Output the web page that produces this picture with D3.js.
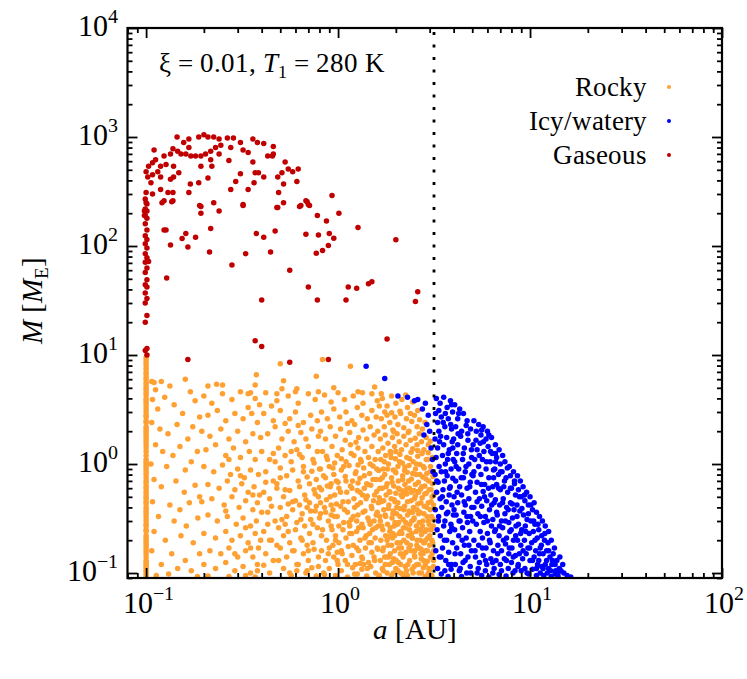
<!DOCTYPE html>
<html>
<head>
<meta charset="utf-8">
<script src="https://cdn.jsdelivr.net/npm/d3@7"></script>
<style>
@font-face { font-family: "PlotSerif"; font-style: normal; src: local("Liberation Serif"), local("LiberationSerif"), local("Liberation Serif Regular"), local("LiberationSerif-Regular"), local("DejaVu Serif"), local("DejaVuSerif"), local("Noto Serif"), local("NotoSerif-Regular"); }
@font-face { font-family: "PlotSerif"; font-style: italic; src: local("Liberation Serif Italic"), local("LiberationSerif-Italic"), local("DejaVu Serif Italic"), local("DejaVuSerif-Italic"), local("Noto Serif Italic"), local("NotoSerif-Italic"); }
body { margin: 0; background: #fff; }
svg text { font-family: "PlotSerif", "Liberation Serif", "Tinos", "Times New Roman", "DejaVu Serif", serif; fill: #000; }
</style>
</head>
<body>
<div id="chart"></div>
<script>
// axis ranges and ticks
var xDomain = [0.08, 100];
var yDomain = [0.09, 10000];
var xMajor = [0.1, 1, 10, 100];
var yMajor = [0.1, 1, 10, 100, 1000, 10000];
var snowLine = 3.16;

var legendNames = ["Rocky", "Icy/watery", "Gaseous"];
var colors = ["#ffa033", "#0000ff", "#c00000"];

// rocky planets [a (AU), M (M_E)] - the column at the inner edge first
var rockyEdgeM = [0.09,0.095,0.1,0.105,0.11,0.115,0.12,0.125,0.13,0.14,0.15,0.16,0.17,0.18,0.19,0.2,0.21,0.22,0.24,0.25,0.27,0.28,0.3,0.32,0.34,0.36,0.38,0.4,0.43,0.45,0.48,0.5,0.53,0.56,0.6,0.63,0.67,0.7,0.75,0.8,0.85,0.9,0.95,1,1.05,1.1,1.2,1.3,1.4,1.5,1.6,1.7,1.8,1.9,2,2.1,2.2,2.4,2.5,2.7,2.8,3,3.2,3.4,3.6,3.8,4,4.3,4.5,4.8,5,5.3,5.6,6,6.3,6.7,7,7.5,8,8.5,9,9.5];
var rocky = [
[0.107,5.7],[0.12,5.7],[0.133,5.2],[0.21,5.2],[0.233,5.4],[0.25,5.3],[0.37,5.3],[0.375,6.6],[0.5,8.3],[0.52,5.8],[0.51,4.9],[0.6,4.6],[0.61,4.9],[0.79,4.6],[0.77,6.4],[0.83,9.1],[0.95,5.0],[1.16,7.9],[1.27,4.6],[1.34,4.5],[1.68,4.4],[0.34,4.4],[0.35,4.5],[0.48,4.4],[0.112,4.8],[1.55,5.1],[2.25,4.3],
[0.11,5.6],[0.16,6],[0.17,4.6],[0.108,3.9],[0.115,3.2],[0.125,4.1],[0.14,3.5],[0.155,2.9],[0.18,3.8],[0.19,2.7],[0.107,2.4],[0.118,2.1],[0.13,1.9],[0.145,2.3],[0.165,1.7],[0.175,2.2],[0.112,1.5],[0.122,1.3],[0.138,1.2],[0.15,1.45],[0.185,1.3],[0.106,1.0],[0.128,0.95],[0.16,0.88],[0.172,1.05],[0.11,0.72],[0.12,0.62],[0.143,0.7],[0.158,0.55],[0.18,0.64],[0.19,0.5],[0.108,0.45],[0.133,0.42],[0.15,0.38],[0.168,0.44],[0.116,0.33],[0.14,0.3],[0.162,0.27],[0.186,0.32],[0.11,0.24],[0.126,0.2],[0.152,0.22],[0.176,0.19],[0.107,0.16],[0.136,0.15],[0.16,0.13],[0.19,0.15],[0.12,0.12],[0.146,0.11],[0.172,0.105],[0.113,0.095],[0.185,0.093],[0.131,0.098],
[0.2,4.2],[0.22,3.6],[0.25,4.4],[0.28,3.9],[0.31,4.6],[0.34,3.3],[0.37,4.0],[0.39,3.5],[0.21,2.8],[0.235,3.1],[0.26,2.5],[0.29,2.9],[0.32,2.6],[0.355,2.9],[0.38,2.4],[0.195,2.0],[0.215,1.8],[0.245,2.1],[0.27,1.7],[0.3,2.0],[0.33,1.6],[0.36,1.9],[0.395,1.75],[0.205,1.35],[0.23,1.5],[0.26,1.2],[0.285,1.4],[0.31,1.15],[0.345,1.3],[0.37,1.1],[0.2,0.95],[0.225,0.85],[0.25,0.98],[0.275,0.8],[0.3,0.9],[0.325,0.75],[0.35,0.88],[0.385,0.8],[0.21,0.65],[0.24,0.6],[0.265,0.7],[0.29,0.58],[0.315,0.66],[0.34,0.55],[0.365,0.62],[0.39,0.52],[0.195,0.45],[0.22,0.48],[0.255,0.42],[0.28,0.5],[0.305,0.4],[0.33,0.46],[0.36,0.38],[0.38,0.44],[0.21,0.34],[0.235,0.3],[0.265,0.33],[0.295,0.28],[0.32,0.32],[0.35,0.27],[0.375,0.3],[0.2,0.23],[0.23,0.21],[0.26,0.24],[0.28,0.2],[0.31,0.22],[0.34,0.19],[0.37,0.23],[0.395,0.2],[0.215,0.16],[0.245,0.15],[0.27,0.17],[0.3,0.14],[0.33,0.16],[0.36,0.14],[0.385,0.17],[0.2,0.12],[0.23,0.11],[0.26,0.125],[0.29,0.105],[0.32,0.115],[0.35,0.1],[0.38,0.12],[0.21,0.094],[0.27,0.093],[0.33,0.095],[0.37,0.092],
[0.42,4.5],[0.48,3.8],[0.55,4.2],[0.62,3.6],[0.7,4.4],[0.76,3.9],[0.45,3.4],[0.41,2.9],[0.46,2.5],[0.5,3.1],[0.56,2.6],[0.6,3.0],[0.66,2.4],[0.72,2.8],[0.78,2.5],[0.53,2.35],[0.43,1.9],[0.47,2.2],[0.51,1.7],[0.55,2.0],[0.59,1.6],[0.64,1.95],[0.68,1.7],[0.73,2.1],[0.79,1.8],[0.62,2.25],[0.4,1.3],[0.44,1.1],[0.49,1.4],[0.53,1.2],[0.57,1.05],[0.61,1.35],[0.65,1.15],[0.7,1.45],[0.74,1.1],[0.78,1.3],[0.46,1.25],[0.42,0.85],[0.46,0.7],[0.5,0.92],[0.54,0.78],[0.58,0.88],[0.62,0.7],[0.66,0.95],[0.69,0.76],[0.73,0.86],[0.77,0.72],[0.8,0.9],[0.48,0.66],[0.41,0.55],[0.44,0.48],[0.48,0.6],[0.52,0.5],[0.56,0.57],[0.6,0.46],[0.63,0.62],[0.67,0.52],[0.71,0.44],[0.75,0.58],[0.79,0.5],[0.55,0.43],[0.43,0.36],[0.47,0.3],[0.5,0.4],[0.54,0.33],[0.58,0.38],[0.61,0.29],[0.65,0.35],[0.69,0.4],[0.72,0.31],[0.76,0.37],[0.8,0.32],[0.45,0.41],[0.63,0.42],[0.41,0.24],[0.45,0.2],[0.49,0.26],[0.52,0.22],[0.56,0.19],[0.6,0.25],[0.64,0.21],[0.67,0.27],[0.71,0.23],[0.74,0.19],[0.78,0.26],[0.53,0.28],[0.69,0.18],[0.42,0.15],[0.46,0.13],[0.5,0.17],[0.54,0.14],[0.58,0.16],[0.62,0.12],[0.66,0.15],[0.7,0.13],[0.75,0.165],[0.79,0.14],[0.48,0.18],[0.44,0.1],[0.52,0.11],[0.57,0.095],[0.61,0.105],[0.68,0.1],[0.73,0.112],[0.77,0.094],[0.41,0.118],
[0.85,4.3],[0.92,3.7],[1.0,4.5],[1.08,3.9],[1.2,4.2],[1.35,3.6],[1.5,4.4],[1.6,3.8],[0.82,3.0],[0.88,2.6],[0.95,3.2],[1.02,2.7],[1.1,3.0],[1.18,2.5],[1.26,3.3],[1.33,2.8],[1.42,2.6],[1.5,3.1],[1.58,2.7],[1.64,3.4],[0.81,2.0],[0.86,1.7],[0.91,2.2],[0.97,1.8],[1.03,2.1],[1.09,1.65],[1.15,1.95],[1.22,2.3],[1.28,1.75],[1.35,2.05],[1.41,1.7],[1.47,2.2],[1.54,1.85],[1.61,2.0],[1.12,2.35],[0.83,1.3],[0.88,1.1],[0.93,1.45],[0.99,1.2],[1.05,1.35],[1.1,1.05],[1.16,1.5],[1.21,1.2],[1.27,1.4],[1.32,1.05],[1.38,1.3],[1.44,1.15],[1.5,1.45],[1.56,1.1],[1.62,1.3],[0.96,1.02],[1.24,1.58],[0.81,0.9],[0.86,0.75],[0.9,0.95],[0.95,0.8],[1.0,0.68],[1.04,0.88],[1.09,0.77],[1.14,0.97],[1.19,0.7],[1.24,0.85],[1.3,0.74],[1.36,0.92],[1.41,0.66],[1.46,0.82],[1.52,0.96],[1.58,0.72],[1.63,0.87],[0.92,0.66],[1.27,0.98],[0.82,0.58],[0.87,0.47],[0.91,0.62],[0.96,0.52],[1.01,0.6],[1.06,0.45],[1.11,0.55],[1.16,0.63],[1.21,0.48],[1.26,0.57],[1.31,0.44],[1.37,0.6],[1.42,0.51],[1.48,0.64],[1.53,0.46],[1.59,0.56],[1.64,0.49],[0.98,0.43],[1.34,0.52],[0.81,0.35],[0.85,0.4],[0.89,0.3],[0.94,0.38],[0.99,0.33],[1.03,0.41],[1.07,0.29],[1.12,0.36],[1.17,0.31],[1.22,0.4],[1.27,0.34],[1.33,0.28],[1.38,0.37],[1.43,0.32],[1.49,0.41],[1.54,0.3],[1.6,0.36],[1.65,0.33],[0.92,0.34],[1.25,0.3],[0.83,0.25],[0.87,0.2],[0.92,0.27],[0.97,0.22],[1.01,0.19],[1.06,0.25],[1.1,0.21],[1.15,0.27],[1.2,0.18],[1.25,0.24],[1.3,0.2],[1.35,0.26],[1.4,0.22],[1.45,0.19],[1.51,0.25],[1.56,0.21],[1.62,0.27],[0.94,0.18],[1.18,0.23],[1.47,0.28],[0.82,0.16],[0.86,0.13],[0.9,0.17],[0.95,0.14],[1.0,0.12],[1.04,0.16],[1.09,0.13],[1.13,0.175],[1.18,0.145],[1.23,0.12],[1.28,0.16],[1.34,0.135],[1.39,0.17],[1.44,0.125],[1.5,0.155],[1.55,0.13],[1.61,0.165],[0.99,0.155],[1.3,0.122],[0.84,0.1],[0.9,0.11],[0.97,0.095],[1.04,0.105],[1.12,0.092],[1.19,0.112],[1.26,0.098],[1.33,0.108],[1.41,0.094],[1.48,0.115],[1.57,0.1],[1.63,0.091],
[1.7,4.0],[1.8,3.4],[1.9,4.2],[2.0,3.6],[2.15,3.9],[2.3,3.3],[2.45,3.7],[2.6,3.1],[1.75,3.0],[2.1,3.05],[1.68,2.6],[1.74,2.2],[1.8,2.8],[1.86,2.4],[1.93,2.05],[1.98,2.7],[2.05,2.3],[2.12,2.9],[2.2,2.15],[2.27,2.6],[2.34,2.0],[2.42,2.45],[2.5,2.8],[2.58,2.2],[2.66,2.55],[2.75,2.1],[2.84,2.4],[1.9,2.95],[2.38,2.9],[1.66,1.7],[1.71,1.4],[1.76,1.85],[1.82,1.55],[1.87,1.3],[1.92,1.75],[1.97,1.45],[2.03,1.9],[2.08,1.6],[2.14,1.35],[2.2,1.8],[2.26,1.5],[2.32,1.95],[2.38,1.65],[2.45,1.38],[2.52,1.72],[2.58,1.5],[2.65,1.9],[2.72,1.6],[2.8,1.35],[2.88,1.75],[2.95,1.5],[3.02,1.62],[1.95,1.98],[2.6,1.33],[1.67,1.1],[1.72,0.9],[1.77,1.2],[1.83,1.0],[1.88,1.25],[1.94,0.88],[1.99,1.12],[2.05,0.95],[2.1,1.22],[2.16,1.02],[2.22,0.87],[2.28,1.15],[2.34,0.97],[2.4,1.28],[2.46,1.05],[2.53,0.9],[2.6,1.18],[2.67,0.99],[2.74,1.25],[2.81,0.92],[2.88,1.1],[2.95,1.27],[3.03,0.95],[3.1,1.15],[2.0,1.3],[1.66,0.72],[1.7,0.6],[1.75,0.8],[1.8,0.66],[1.85,0.56],[1.9,0.75],[1.95,0.63],[2.0,0.83],[2.06,0.7],[2.11,0.58],[2.17,0.78],[2.23,0.65],[2.29,0.84],[2.35,0.6],[2.41,0.73],[2.48,0.57],[2.55,0.8],[2.62,0.68],[2.69,0.59],[2.76,0.76],[2.83,0.63],[2.9,0.82],[2.97,0.7],[3.05,0.58],[3.12,0.77],[2.2,0.56],[1.68,0.45],[1.73,0.38],[1.78,0.52],[1.84,0.42],[1.89,0.48],[1.94,0.37],[2.0,0.54],[2.05,0.44],[2.1,0.39],[2.16,0.5],[2.22,0.41],[2.28,0.53],[2.34,0.37],[2.4,0.46],[2.47,0.4],[2.53,0.51],[2.6,0.43],[2.67,0.36],[2.74,0.49],[2.81,0.41],[2.88,0.54],[2.95,0.44],[3.02,0.38],[3.09,0.5],[3.14,0.42],[1.98,0.45],[2.63,0.55],[1.66,0.3],[1.71,0.25],[1.76,0.34],[1.81,0.28],[1.86,0.24],[1.91,0.32],[1.96,0.27],[2.02,0.35],[2.07,0.29],[2.12,0.24],[2.18,0.31],[2.24,0.26],[2.3,0.34],[2.36,0.28],[2.42,0.23],[2.49,0.32],[2.56,0.27],[2.63,0.35],[2.7,0.25],[2.77,0.3],[2.84,0.24],[2.91,0.33],[2.98,0.28],[3.06,0.25],[3.13,0.31],[1.93,0.23],[2.45,0.36],[1.67,0.2],[1.72,0.17],[1.77,0.22],[1.82,0.18],[1.87,0.15],[1.92,0.21],[1.97,0.16],[2.03,0.19],[2.08,0.23],[2.14,0.17],[2.2,0.2],[2.26,0.155],[2.32,0.22],[2.38,0.18],[2.44,0.21],[2.51,0.16],[2.58,0.2],[2.65,0.17],[2.72,0.225],[2.79,0.19],[2.86,0.16],[2.93,0.21],[3.0,0.18],[3.08,0.2],[3.15,0.16],[2.11,0.15],[2.7,0.15],[1.66,0.13],[1.7,0.11],[1.75,0.14],[1.8,0.1],[1.85,0.12],[1.9,0.095],[1.95,0.135],[2.0,0.11],[2.06,0.125],[2.12,0.1],[2.18,0.14],[2.24,0.115],[2.3,0.095],[2.36,0.13],[2.43,0.108],[2.5,0.145],[2.57,0.12],[2.64,0.1],[2.71,0.135],[2.78,0.112],[2.85,0.093],[2.92,0.128],[2.99,0.105],[3.07,0.14],[3.14,0.115],[2.2,0.092]
];
// further rocky planets filling the dense zone at 0.3 - 3 AU
var rockyDense = [
[0.26,0.37],[0.29,0.15],[0.31,0.78],[0.33,0.26],[0.36,0.52],[0.38,0.105],[0.4,0.36],[0.42,0.68],[0.44,0.2],[0.47,1.05],[0.49,0.13],[0.51,0.31],[0.53,0.58],[0.55,0.24],[0.57,1.3],[0.59,0.16],[0.27,1.1],[0.35,0.17],[0.43,0.28],[0.5,0.75],[0.56,0.1],[0.58,0.45],
[0.61,0.12],[0.64,0.31],[0.66,0.85],[0.63,1.22],[0.68,0.47],[0.7,0.16],[0.71,0.66],[0.74,0.28],[0.75,1.02],[0.77,0.41],[0.79,0.115],[0.8,0.61],[0.82,0.22],[0.84,0.78],[0.86,0.36],[0.87,1.18],[0.89,0.15],[0.91,0.5],[0.93,0.25],[0.94,0.92],[0.96,0.33],[0.98,0.7],[0.99,0.13],[0.65,0.2],[0.69,0.105],[0.72,0.37],[0.76,0.53],[0.81,0.44],[0.85,0.097],[0.88,0.63],[0.92,0.42],[0.97,0.2],
[1.01,0.27],[1.03,0.55],[1.05,0.15],[1.07,0.95],[1.08,0.38],[1.1,0.7],[1.12,0.12],[1.13,0.45],[1.15,0.23],[1.17,1.25],[1.18,0.6],[1.2,0.33],[1.22,0.098],[1.23,0.82],[1.25,0.17],[1.26,0.42],[1.28,0.26],[1.3,0.55],[1.31,1.1],[1.33,0.14],[1.35,0.36],[1.37,0.78],[1.38,0.21],[1.4,0.48],[1.42,0.11],[1.43,0.65],[1.45,0.3],[1.47,1.0],[1.49,0.19],[1.5,0.39],[1.52,0.72],[1.54,0.14],[1.55,0.52],[1.57,0.26],[1.59,0.9],[1.6,0.17],[1.62,0.44],[1.64,0.095],[1.65,0.6],[1.04,1.12],[1.14,0.29],[1.27,0.67],[1.36,0.12],[1.46,0.23],[1.58,0.34],
[1.69,0.27],[1.7,0.75],[1.71,0.16],[1.73,0.46],[1.74,1.05],[1.76,0.12],[1.77,0.33],[1.78,0.62],[1.8,0.2],[1.81,0.9],[1.83,0.39],[1.84,0.14],[1.86,0.55],[1.87,0.26],[1.89,1.15],[1.9,0.18],[1.91,0.68],[1.93,0.35],[1.94,0.1],[1.96,0.47],[1.97,0.22],[1.99,0.85],[2.01,0.13],[2.02,0.4],[2.04,0.28],[2.06,0.6],[2.07,0.17],[2.09,1.05],[2.1,0.33],[2.12,0.12],[2.13,0.52],[2.15,0.23],[2.17,0.72],[2.18,0.097],[2.2,0.38],[2.21,0.15],[2.23,0.94],[2.25,0.29],[2.26,0.58],[2.28,0.19],[2.3,0.45],[2.31,0.12],[2.33,0.7],[2.35,0.25],[2.36,1.12],[2.38,0.36],[2.4,0.16],[2.41,0.55],[2.43,0.21],[2.45,0.82],[2.46,0.1],[2.48,0.31],[2.5,0.48],[2.51,0.14],[2.53,0.65],[2.55,0.24],[2.56,1.0],[2.58,0.38],[2.6,0.17],[2.61,0.56],[2.63,0.12],[2.65,0.29],[2.67,0.8],[2.68,0.2],[2.7,0.44],[2.72,0.1],[2.73,0.62],[2.75,0.27],[2.77,0.15],[2.78,0.95],[2.8,0.35],[2.82,0.19],[2.83,0.53],[2.85,0.12],[2.87,0.73],[2.88,0.25],[2.9,0.4],[2.92,0.16],[2.93,1.1],[2.95,0.3],[2.97,0.11],[2.98,0.58],[3.0,0.22],[3.02,0.85],[3.03,0.14],[3.05,0.45],[3.07,0.33],[3.08,0.095],[3.1,0.66],[3.11,0.19],[3.13,0.27],[3.15,0.52],[3.14,0.13],
[1.72,0.105],[1.79,0.14],[1.85,0.215],[1.92,0.125],[1.98,0.29],[2.05,0.105],[2.11,0.19],[2.19,0.26],[2.27,0.105],[2.34,0.17],[2.42,0.3],[2.49,0.115],[2.57,0.18],[2.64,0.25],[2.71,0.165],[2.79,0.13],[2.86,0.2],[2.94,0.098],[3.01,0.25],[3.09,0.15]
];

// icy / watery planets [a, M]
var icy = [
[1.4,7.9],[1.75,6.1],[2.05,4.2],[2.3,4.1],[2.6,3.9],[2.85,3.6],[2.75,3.2],[2.95,2.8],[2.9,2.3],[3.0,2.0],[2.8,1.85],[3.05,1.4],[3.1,1.1],[3.12,0.85],[2.5,3.8],
[3.25,4.0],[3.4,3.6],[3.55,4.1],[3.7,3.3],[3.85,3.8],[3.95,3.0],[3.22,2.9],[3.3,2.4],[3.45,2.7],[3.6,2.2],[3.75,2.6],[3.9,2.1],[3.35,2.0],[3.2,1.7],[3.3,1.4],[3.42,1.8],[3.55,1.5],[3.68,1.75],[3.8,1.35],[3.93,1.6],[3.24,1.15],[3.36,0.95],[3.5,1.2],[3.62,1.0],[3.75,1.25],[3.88,0.9],[3.98,1.1],[3.2,0.8],[3.32,0.68],[3.45,0.85],[3.58,0.7],[3.7,0.78],[3.84,0.62],[3.96,0.74],[3.26,0.55],[3.4,0.48],[3.52,0.58],[3.66,0.45],[3.79,0.52],[3.92,0.42],[3.21,0.38],[3.34,0.33],[3.47,0.4],[3.6,0.3],[3.73,0.36],[3.87,0.28],[3.99,0.34],[3.28,0.25],[3.41,0.22],[3.55,0.27],[3.68,0.2],[3.82,0.24],[3.95,0.19],[3.23,0.16],[3.37,0.14],[3.5,0.17],[3.64,0.13],[3.77,0.155],[3.9,0.12],[3.3,0.11],[3.45,0.098],[3.6,0.105],[3.74,0.093],[3.88,0.108],
[4.05,3.5],[4.3,3.2],[4.5,2.9],[4.2,2.6],[4.7,2.5],[4.1,2.2],[4.4,2.0],[4.65,2.25],[4.9,2.1],[4.0,1.7],[4.2,1.5],[4.35,1.8],[4.55,1.4],[4.75,1.65],[4.95,1.35],[4.15,1.25],[4.05,1.05],[4.25,0.9],[4.45,1.1],[4.6,0.85],[4.8,1.0],[4.98,0.8],[4.1,0.7],[4.3,0.62],[4.5,0.75],[4.7,0.6],[4.88,0.68],[4.02,0.5],[4.2,0.44],[4.4,0.52],[4.6,0.42],[4.8,0.48],[4.97,0.4],[4.12,0.34],[4.32,0.3],[4.52,0.36],[4.72,0.29],[4.9,0.33],[4.05,0.25],[4.25,0.22],[4.45,0.26],[4.65,0.21],[4.85,0.24],[4.15,0.17],[4.35,0.15],[4.55,0.18],[4.75,0.14],[4.95,0.16],[4.08,0.12],[4.28,0.105],[4.48,0.125],[4.68,0.1],[4.88,0.115],[4.4,0.093],
[5.1,2.5],[5.4,2.3],[5.7,2.2],[6.0,2.0],[5.25,2.0],[5.55,1.85],[5.9,1.7],[6.3,1.75],[5.05,1.5],[5.3,1.35],[5.5,1.55],[5.75,1.3],[6.05,1.45],[6.35,1.25],[5.15,1.1],[5.4,0.95],[5.65,1.1],[5.9,0.9],[6.2,1.05],[6.45,0.88],[5.05,0.78],[5.3,0.68],[5.55,0.8],[5.8,0.65],[6.1,0.75],[6.4,0.62],[5.2,0.55],[5.45,0.48],[5.7,0.56],[5.95,0.46],[6.25,0.52],[6.5,0.44],[5.1,0.4],[5.35,0.35],[5.6,0.41],[5.85,0.33],[6.15,0.38],[6.4,0.31],[5.25,0.28],[5.5,0.24],[5.75,0.29],[6.0,0.23],[6.3,0.27],[5.1,0.2],[5.4,0.18],[5.65,0.21],[5.9,0.17],[6.2,0.19],[6.45,0.16],[5.2,0.14],[5.45,0.125],[5.7,0.145],[5.95,0.12],[6.25,0.135],[6.5,0.11],[5.3,0.1],[5.6,0.095],[5.85,0.105],[6.1,0.092],[6.4,0.1],
[6.6,1.5],[6.9,1.35],[7.2,1.2],[6.7,1.15],[7.0,1.0],[7.4,1.05],[7.8,0.95],[8.2,0.85],[6.55,0.9],[6.85,0.8],[7.15,0.85],[7.5,0.75],[7.9,0.78],[8.3,0.7],[6.7,0.65],[7.0,0.58],[7.3,0.62],[7.65,0.55],[8.0,0.6],[8.4,0.52],[6.6,0.47],[6.95,0.42],[7.25,0.48],[7.55,0.4],[7.9,0.44],[8.25,0.38],[6.75,0.34],[7.1,0.3],[7.4,0.35],[7.75,0.29],[8.1,0.32],[8.45,0.27],[6.6,0.25],[6.9,0.22],[7.2,0.26],[7.55,0.21],[7.85,0.24],[8.2,0.2],[6.8,0.18],[7.1,0.16],[7.45,0.185],[7.75,0.15],[8.05,0.17],[8.4,0.145],[6.65,0.13],[7.0,0.12],[7.35,0.135],[7.7,0.11],[8.0,0.125],[8.35,0.105],[6.9,0.097],[7.5,0.094],[8.15,0.1],
[8.6,0.78],[8.9,0.7],[9.2,0.62],[9.6,0.55],[10.0,0.5],[10.5,0.44],[8.7,0.58],[9.0,0.5],[9.4,0.46],[9.8,0.42],[10.3,0.38],[10.8,0.36],[8.55,0.42],[8.85,0.37],[9.25,0.34],[9.65,0.31],[10.1,0.3],[10.6,0.28],[8.7,0.28],[9.05,0.25],[9.45,0.27],[9.9,0.23],[10.4,0.24],[10.9,0.21],[8.6,0.2],[8.95,0.18],[9.35,0.2],[9.75,0.17],[10.2,0.19],[10.7,0.16],[8.8,0.15],[9.15,0.135],[9.55,0.15],[10.0,0.13],[10.5,0.14],[10.95,0.12],[8.65,0.115],[9.0,0.105],[9.4,0.11],[9.85,0.098],[10.3,0.108],[10.8,0.095],
[11.2,0.33],[11.6,0.3],[12.0,0.27],[12.5,0.24],[11.1,0.25],[11.5,0.22],[11.9,0.2],[12.4,0.19],[12.9,0.2],[13.4,0.17],[11.3,0.17],[11.7,0.15],[12.2,0.16],[12.7,0.14],[13.2,0.15],[13.8,0.13],[14.3,0.14],[11.1,0.13],[11.5,0.115],[12.0,0.12],[12.5,0.11],[13.0,0.12],[13.6,0.105],[14.2,0.11],[14.8,0.12],[11.3,0.1],[11.8,0.095],[12.3,0.1],[12.9,0.093],[13.5,0.098],[14.0,0.093],[15.0,0.1],[15.6,0.095],[16.3,0.092]
];
var icyDense = [
[3.27,0.7],[3.33,0.3],[3.38,1.6],[3.44,0.14],[3.49,0.5],[3.53,2.4],[3.58,0.2],[3.63,0.85],[3.67,0.35],[3.72,1.1],[3.77,0.12],[3.81,0.6],[3.86,2.3],[3.91,0.26],[3.96,1.4],[4.02,0.38],[4.07,0.15],[4.12,0.95],[4.17,0.55],[4.22,1.9],[4.27,0.3],[4.33,0.11],[4.38,0.75],[4.43,0.2],[4.49,1.25],[4.54,0.45],[4.59,0.13],[4.64,0.95],[4.69,0.33],[4.74,1.9],[4.8,0.18],[4.85,0.62],[4.91,0.1],[4.96,1.15],[3.35,3.1],[3.62,2.9],[3.9,3.5],[4.25,2.9],
[5.03,0.3],[5.1,0.85],[5.17,0.16],[5.23,1.65],[5.3,0.45],[5.37,0.11],[5.44,1.2],[5.51,0.33],[5.58,0.65],[5.65,0.17],[5.72,1.6],[5.79,0.5],[5.86,0.13],[5.93,1.05],[6.0,0.3],[6.08,0.6],[6.15,0.2],[6.23,1.3],[6.31,0.42],[6.38,0.125],[6.46,0.75],[6.54,0.24],[6.62,1.05],[6.7,0.36],[6.78,0.15],[6.86,0.6],[6.94,0.27],[7.02,0.85],[7.1,0.105],[7.19,0.44],[7.27,0.2],[7.36,0.7],[7.44,0.3],[7.53,0.13],[7.62,0.92],[7.7,0.38],[7.8,0.17],[7.9,0.6],[7.98,0.25],[5.6,2.05],[6.1,1.85],[6.6,1.25],
[8.08,0.43],[8.18,0.14],[8.3,0.66],[8.42,0.22],[8.55,0.33],[8.68,0.12],[8.8,0.5],[8.93,0.23],[9.07,0.39],[9.2,0.16],[9.35,0.52],[9.5,0.24],[9.65,0.1],[9.8,0.35],[9.95,0.17],[10.1,0.42],[10.3,0.13],[10.45,0.3],[10.6,0.2],[10.8,0.11],[11.0,0.28],[11.2,0.15],[11.45,0.18],[11.7,0.11],[11.95,0.23],[12.2,0.13],[12.5,0.16],[12.8,0.105],[13.1,0.13],[13.5,0.12],[14.0,0.1],[14.5,0.105]
];

// gaseous planets [a, M]
var gasEdgeM = [270,243,219,209,190,180,160,140,124,115,105,96,85,78,71,63,57,49,44,42,37,33,30,23,20,11.5,11,10];
var gaseous = [
[0.145,1000],[0.167,960],[0.188,1000],[0.2,1050],[0.21,1000],[0.225,1000],[0.24,960],[0.265,980],[0.285,980],[0.31,890],[0.36,960],[0.38,890],[0.41,870],[0.46,820],[0.157,890],[0.167,800],[0.138,780],[0.146,740],[0.152,700],[0.161,700],[0.171,670],[0.181,670],[0.193,670],[0.204,700],[0.217,740],[0.23,800],[0.245,840],[0.276,800],[0.32,760],[0.34,720],[0.124,670],[0.134,700],[0.11,760],[0.112,620],[0.108,580],[0.103,540],[0.1,480],[0.102,430],[0.108,450],[0.115,480],[0.119,540],[0.127,560],[0.139,540],[0.148,470],[0.139,430],[0.134,410],[0.119,430],[0.106,380],[0.1,310],[0.108,300],[0.119,330],[0.13,310],[0.138,310],[0.124,260],[0.138,260],[0.1,250],[0.098,210],[0.098,190],[0.17,370],[0.167,310],[0.188,380],[0.193,540],[0.21,420],[0.217,620],[0.22,540],[0.24,700],[0.27,610],[0.293,390],[0.276,330],[0.31,460],[0.32,240],[0.34,330],[0.36,590],[0.37,470],[0.385,470],[0.365,380],[0.41,430],[0.43,670],[0.455,670],[0.46,700],[0.485,430],[0.49,310],[0.51,470],[0.53,590],[0.52,370],[0.55,510],[0.58,480],[0.61,390],[0.62,510],[0.52,250],[0.485,225],[0.63,230],[0.68,260],[0.7,240],[0.78,190],[0.93,290],[1.01,200],[0.193,230],[0.193,200],[0.225,250],[0.24,210],
[0.121,250],[0.136,255],[0.19,235],[0.32,235],[0.48,225],[0.64,235],[0.69,255],[0.71,235],[0.87,170],[0.124,140],[0.127,140],[0.154,117],[0.161,130],[0.165,98],[0.181,120],[0.217,145],[0.214,88],[0.134,102],[0.128,51],[0.28,67],[0.33,85],[0.375,130],[0.41,120],[0.445,88],[0.47,137],[0.56,60],[0.68,128],[0.77,86],[0.79,126],[0.83,91],[0.89,101],[0.9,130],[0.95,118],[1.27,148],[2.0,114],[0.7,42],[0.4,32],[0.78,32],[1.1,32],[1.13,42],[1.25,41],[1.44,45],[1.5,47],[2.53,31],[2.6,38],[0.37,13.5],[0.4,12],[1.8,14],[0.165,9.1],[0.56,8.6],[0.89,9.1],[0.103,72]
];

var W = 747, H = 679;
var L = 127.5, R = 722, T = 28, B = 578;

var svg = d3.select("#chart").append("svg")
        .attr("width", W)
        .attr("height", H);

var x = d3.scaleLog().domain(xDomain).range([L, R]);
var y = d3.scaleLog().domain(yDomain).range([B, T]);

svg.append("clipPath").attr("id", "clip")
        .append("rect")
        .attr("x", L).attr("y", T)
        .attr("width", R - L).attr("height", B - T);

// merge the inner-edge columns into the point lists
var rockyAll = rockyEdgeM.map(function(m) { return [0.1, m]; }).concat(rocky, rockyDense);
var icyAll = icy.concat(icyDense);
var gasAll = gasEdgeM.map(function(m, i) { return [i % 2 ? 0.101 : 0.099, m]; }).concat(gaseous);
var groups = [rockyAll, icyAll, gasAll];

var plot = svg.append("g").attr("clip-path", "url(#clip)");

groups.forEach(function(pts, i) {
        plot.append("g").selectAll("circle")
                .data(pts)
                .enter().append("circle")
                .attr("cx", function(d) { return x(d[0]); })
                .attr("cy", function(d) { return y(d[1]); })
                .attr("r", 2.75)
                .style("fill", colors[i]);
        });

// snow line
svg.append("line")
        .attr("x1", x(snowLine)).attr("x2", x(snowLine))
        .attr("y1", y(yDomain[1]) + 4).attr("y2", y(yDomain[0]))
        .style("stroke", "#000")
        .style("stroke-width", 2.8)
        .style("stroke-dasharray", "3,9.5");

// ticks on all four sides, pointing inwards
function isMajor(v) { return Math.abs(Math.log10(v) - Math.round(Math.log10(v))) < 1e-6; }
var xMinor = x.ticks().filter(function(v) { return !isMajor(v); });
var yMinor = y.ticks().filter(function(v) { return !isMajor(v); });

function drawAxis(axis, tx, ty) {
        var g = svg.append("g").attr("transform", "translate(" + tx + "," + ty + ")").call(axis);
        g.selectAll("text").remove();
        g.select(".domain").remove();
        g.selectAll("line").style("stroke", "#000").style("stroke-width", 1.8);
        }

drawAxis(d3.axisBottom(x).tickValues(xMajor).tickSize(-10).tickSizeOuter(0), 0, B);
drawAxis(d3.axisBottom(x).tickValues(xMinor).tickSize(-5).tickSizeOuter(0), 0, B);
drawAxis(d3.axisTop(x).tickValues(xMajor).tickSize(-10).tickSizeOuter(0), 0, T);
drawAxis(d3.axisTop(x).tickValues(xMinor).tickSize(-5).tickSizeOuter(0), 0, T);
drawAxis(d3.axisLeft(y).tickValues(yMajor).tickSize(-10).tickSizeOuter(0), L, 0);
drawAxis(d3.axisLeft(y).tickValues(yMinor).tickSize(-5).tickSizeOuter(0), L, 0);
drawAxis(d3.axisRight(y).tickValues(yMajor).tickSize(-10).tickSizeOuter(0), R, 0);
drawAxis(d3.axisRight(y).tickValues(yMinor).tickSize(-5).tickSizeOuter(0), R, 0);

svg.append("rect")
        .attr("x", L).attr("y", T)
        .attr("width", R - L).attr("height", B - T)
        .style("fill", "none")
        .style("stroke", "#000")
        .style("stroke-width", 2.2);

// power-of-ten tick labels
function expText(v) { return String(Math.round(Math.log10(v))).replace("-", "\u2212"); }

function powLabel(sel) {
        sel.append("tspan").text("10");
        sel.append("tspan")
                .attr("dy", -13)
                .style("font-size", "20px")
                .text(function(d) { return expText(d); });
        }

svg.append("g").selectAll("text")
        .data(xMajor)
        .enter().append("text")
        .attr("x", function(d) { return x(d) + 2; })
        .attr("y", 613)
        .attr("text-anchor", "middle")
        .style("font-size", "30px")
        .call(powLabel);

svg.append("g").selectAll("text")
        .data(yMajor)
        .enter().append("text")
        .attr("x", 118)
        .attr("y", function(d) { return y(d) + 8; })
        .attr("text-anchor", "end")
        .style("font-size", "30px")
        .call(powLabel);

// axis titles
var xt = svg.append("text")
        .attr("x", 415).attr("y", 639)
        .attr("text-anchor", "middle")
        .style("font-size", "29px");
xt.append("tspan").style("font-style", "italic").text("a");
xt.append("tspan").text(" [AU]");

var yt = svg.append("text")
        .attr("transform", "translate(42,300) rotate(-90)")
        .attr("text-anchor", "middle")
        .style("font-size", "29px");
yt.append("tspan").style("font-style", "italic").text("M");
yt.append("tspan").text(" [");
yt.append("tspan").style("font-style", "italic").text("M");
yt.append("tspan").attr("dy", 6).style("font-size", "19px").text("E");
yt.append("tspan").attr("dy", -6).text("]");

// model parameters
var ann = svg.append("text")
        .attr("x", 159).attr("y", 72)
        .style("font-size", "27px");
ann.append("tspan").text("\u03BE = 0.01, ");
ann.append("tspan").style("font-style", "italic").text("T");
ann.append("tspan").attr("dy", 6).style("font-size", "18px").text("1");
ann.append("tspan").attr("dy", -6).text(" = 280 K");

// legend
var leg = svg.append("g").selectAll("g")
        .data(legendNames)
        .enter().append("g")
        .attr("transform", function(d, i) { return "translate(0," + (96 + i * 34) + ")"; });

leg.append("text")
        .attr("x", 647)
        .attr("text-anchor", "end")
        .style("font-size", "27px")
        .text(function(d) { return d; });

leg.append("circle")
        .attr("cx", 669).attr("cy", -9)
        .attr("r", 2)
        .style("fill", function(d, i) { return colors[i]; });
</script>
</body>
</html>
